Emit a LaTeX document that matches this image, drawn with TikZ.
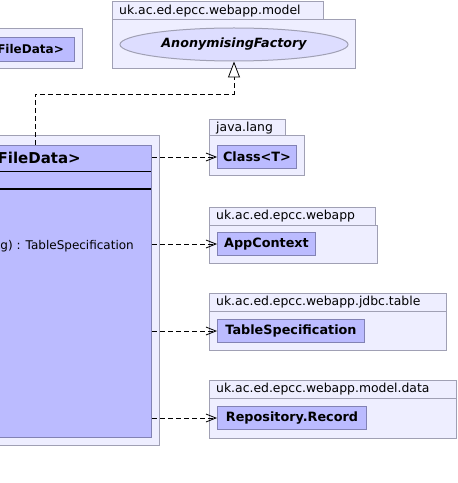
\documentclass[tikz,border=0pt]{standalone}
\usepackage{fontspec}
\setmainfont{DejaVu Sans}
\usetikzlibrary{positioning, shapes.geometric, arrows.meta}

\definecolor{pkgfill}{HTML}{EEEEFF}
\definecolor{pkgline}{HTML}{A0A0B4}
\definecolor{clsfill}{HTML}{BBBBFF}
\definecolor{clsline}{HTML}{8282B4}
\definecolor{ifcfill}{HTML}{DDDDFF}

\tikzset{
  pkg/.style={draw=pkgline, fill=pkgfill, line width=1bp},
  cls/.style={draw=clsline, fill=clsfill, line width=1bp, inner sep=0pt,
    font=\bfseries\fontsize{12.8bp}{15bp}\selectfont},
  pkglabel/.style={anchor=west, inner sep=0pt, font=\fontsize{12.4bp}{14bp}\selectfont},
  dep/.style={dash pattern=on 5bp off 3bp, line width=0.8bp,
    -{Straight Barb[length=10bp,width=8bp]}},
  real/.style={dash pattern=on 5bp off 3bp, line width=0.8bp,
    -{Triangle[open,fill=white,length=16bp,width=12bp]}}
}

\begin{document}
\begin{tikzpicture}[x=1bp, y=-1bp]
		      \useasboundingbox (0,0) rectangle (458,483);
		      \clip (0,0) rectangle (458,483);

		      % top left package
		      \draw[pkg] (-7,29) rectangle (82,69);
		      \node[cls, anchor=north west, minimum width=81bp, minimum height=24bp] (fdata) at (-7,37) {};
		      \node[anchor=east, inner sep=0pt, font=\bfseries\fontsize{12bp}{14bp}\selectfont] (fdname) at (64,49) {FileData>};

		      % uk.ac.ed.epcc.webapp.model
		      \draw[pkg] (112,2) rectangle (323,20);
		      \draw[pkg] (112,20) rectangle (355,69);
		      \node[pkglabel] (lmodel) at (119,11) {uk.ac.ed.epcc.webapp.model};
		      \node[ellipse, draw=pkgline, fill=ifcfill, line width=1bp, inner sep=0pt,
		        minimum width=228bp, minimum height=33bp,
		        font=\bfseries\itshape\fontsize{12.7bp}{15bp}\selectfont] (anon) at (234,44.5) {AnonymisingFactory};

		      % main package and class
		      \draw[pkg] (-7,136) rectangle (159,445);
		      \node[cls, anchor=north west, minimum width=158bp, minimum height=292bp] (store) at (-7,145) {};
		      \node[anchor=east, inner sep=0pt, font=\bfseries\fontsize{15bp}{18bp}\selectfont] (sname) at (81,158) {FileData>};
		      \draw[line width=1bp] (-7,171.5) -- (151,171.5);
		      \draw[line width=2bp] (-7,189) -- (151,189);
		      \node[anchor=east, inner sep=0pt, font=\fontsize{12bp}{14bp}\selectfont] (sop) at (134,246) {g) : TableSpecification};

		      % java.lang
		      \draw[pkg] (209,120) rectangle (285,136);
		      \draw[pkg] (209,136) rectangle (304,176);
		      \node[pkglabel] (llang) at (216,128) {java.lang};
		      \node[cls, anchor=north west, minimum width=79bp, minimum height=23bp] (clst) at (217,145) {Class<T>};

		      % uk.ac.ed.epcc.webapp
		      \draw[pkg] (209,207) rectangle (375,225);
		      \draw[pkg] (209,225) rectangle (377,263);
		      \node[pkglabel] (lwebapp) at (216,216) {uk.ac.ed.epcc.webapp};
		      \node[cls, anchor=north west, minimum width=98bp, minimum height=23bp] (appctx) at (217,232) {AppContext};

		      % uk.ac.ed.epcc.webapp.jdbc.table
		      \draw[pkg] (209,293) rectangle (446,311);
		      \draw[pkg] (209,311) rectangle (446,350);
		      \node[pkglabel] (ltable) at (216,302) {uk.ac.ed.epcc.webapp.jdbc.table};
		      \node[cls, anchor=north west, minimum width=147bp, minimum height=23bp] (tspec) at (217,319) {TableSpecification};

		      % uk.ac.ed.epcc.webapp.model.data
		      \draw[pkg] (209,380) rectangle (456,398);
		      \draw[pkg] (209,398) rectangle (456,438);
		      \node[pkglabel] (ldata) at (216,389) {uk.ac.ed.epcc.webapp.model.data};
		      \node[cls, anchor=north west, minimum width=149bp, minimum height=23bp] (rrec) at (217,406) {Repository.Record};

		      % connectors
		      \coordinate (bend) at (35,94);
		      \draw[real] (store.north -| bend) -- (bend) -| (anon.south);
		      \draw[dep] (store.east |- clst.west) -- (clst.west);
		      \draw[dep] (store.east |- appctx.west) -- (appctx.west);
		      \draw[dep] (store.east |- tspec.west) -- (tspec.west);
		      \draw[dep] (store.east |- rrec.west) -- (rrec.west);

	      \end{tikzpicture}
\end{document}
